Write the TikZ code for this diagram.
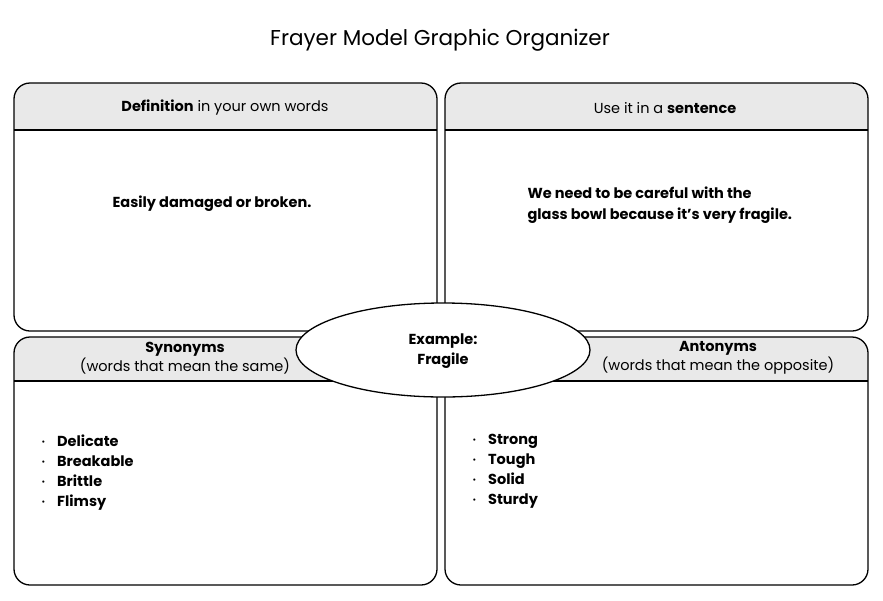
\documentclass[tikz,border=0pt]{standalone}
\usepackage{fontspec}
\setmainfont{Poppins}
\begin{document}
\begin{tikzpicture}[x=1pt,y=-1pt,
  box/.style={draw=black,line width=1.3pt,rounded corners=16pt},
  hdr/.style={fill=gray!17},
  txt/.style={font=\fontsize{14.5}{19}\selectfont,align=center},
  bul/.style={font=\fontsize{14.5}{20}\selectfont\bfseries,align=left,anchor=north west}]
\useasboundingbox (0,0) rectangle (883,600);
\node (title) at (440,40) {\fontsize{21.5}{24}\selectfont Frayer Model Graphic Organizer};
\foreach \nm/\x/\y/\h in {tl/14/83/47, tr/445/83/47, bl/14/337/44, br/445/337/44}{
  \begin{scope}
    \clip[rounded corners=16pt] (\x,\y) rectangle ++(423,248);
    \fill[hdr] (\x,\y) rectangle ++(423,\h);
    \draw[line width=1.3pt] (\x,\y+\h) -- ++(423,0);
  \end{scope}
  \draw[box] (\x,\y) rectangle ++(423,248);
}
\node[txt] (h1) at (225,108) {\textbf{Definition} in your own words};
\node[txt] (h2) at (665,108) {Use it in a \textbf{sentence}};
\node[txt] (h3) at (185,358) {\textbf{Synonyms}\\(words that mean the same)};
\node[txt] (h4) at (718,358) {\textbf{Antonyms}\\(words that mean the opposite)};
\node[txt,font=\fontsize{14.5}{19}\selectfont\bfseries] (d) at (212,204) {Easily damaged or broken.};
\node[txt,font=\fontsize{14.5}{21}\selectfont\bfseries,align=left,anchor=west] (s) at (524,205) {We need to be careful with the\\glass bowl because it’s very fragile.};
\node[bul] (syn) at (38,431) {\raisebox{2pt}{\scalebox{0.5}{\textbullet}}\hspace{12pt}Delicate\\\raisebox{2pt}{\scalebox{0.5}{\textbullet}}\hspace{12pt}Breakable\\\raisebox{2pt}{\scalebox{0.5}{\textbullet}}\hspace{12pt}Brittle\\\raisebox{2pt}{\scalebox{0.5}{\textbullet}}\hspace{12pt}Flimsy};
\node[bul] (ant) at (469,431) {\raisebox{2pt}{\scalebox{0.5}{\textbullet}}\hspace{12pt}Strong\\\raisebox{2pt}{\scalebox{0.5}{\textbullet}}\hspace{12pt}Tough\\\raisebox{2pt}{\scalebox{0.5}{\textbullet}}\hspace{12pt}Solid\\\raisebox{2pt}{\scalebox{0.5}{\textbullet}}\hspace{12pt}Sturdy};
\draw[line width=1.3pt,fill=white] (443,350) ellipse [x radius=147, y radius=47];
\node[txt,font=\fontsize{14.5}{20}\selectfont\bfseries] (ex) at (443,351) {Example:\\Fragile};
\end{tikzpicture}
\end{document}
